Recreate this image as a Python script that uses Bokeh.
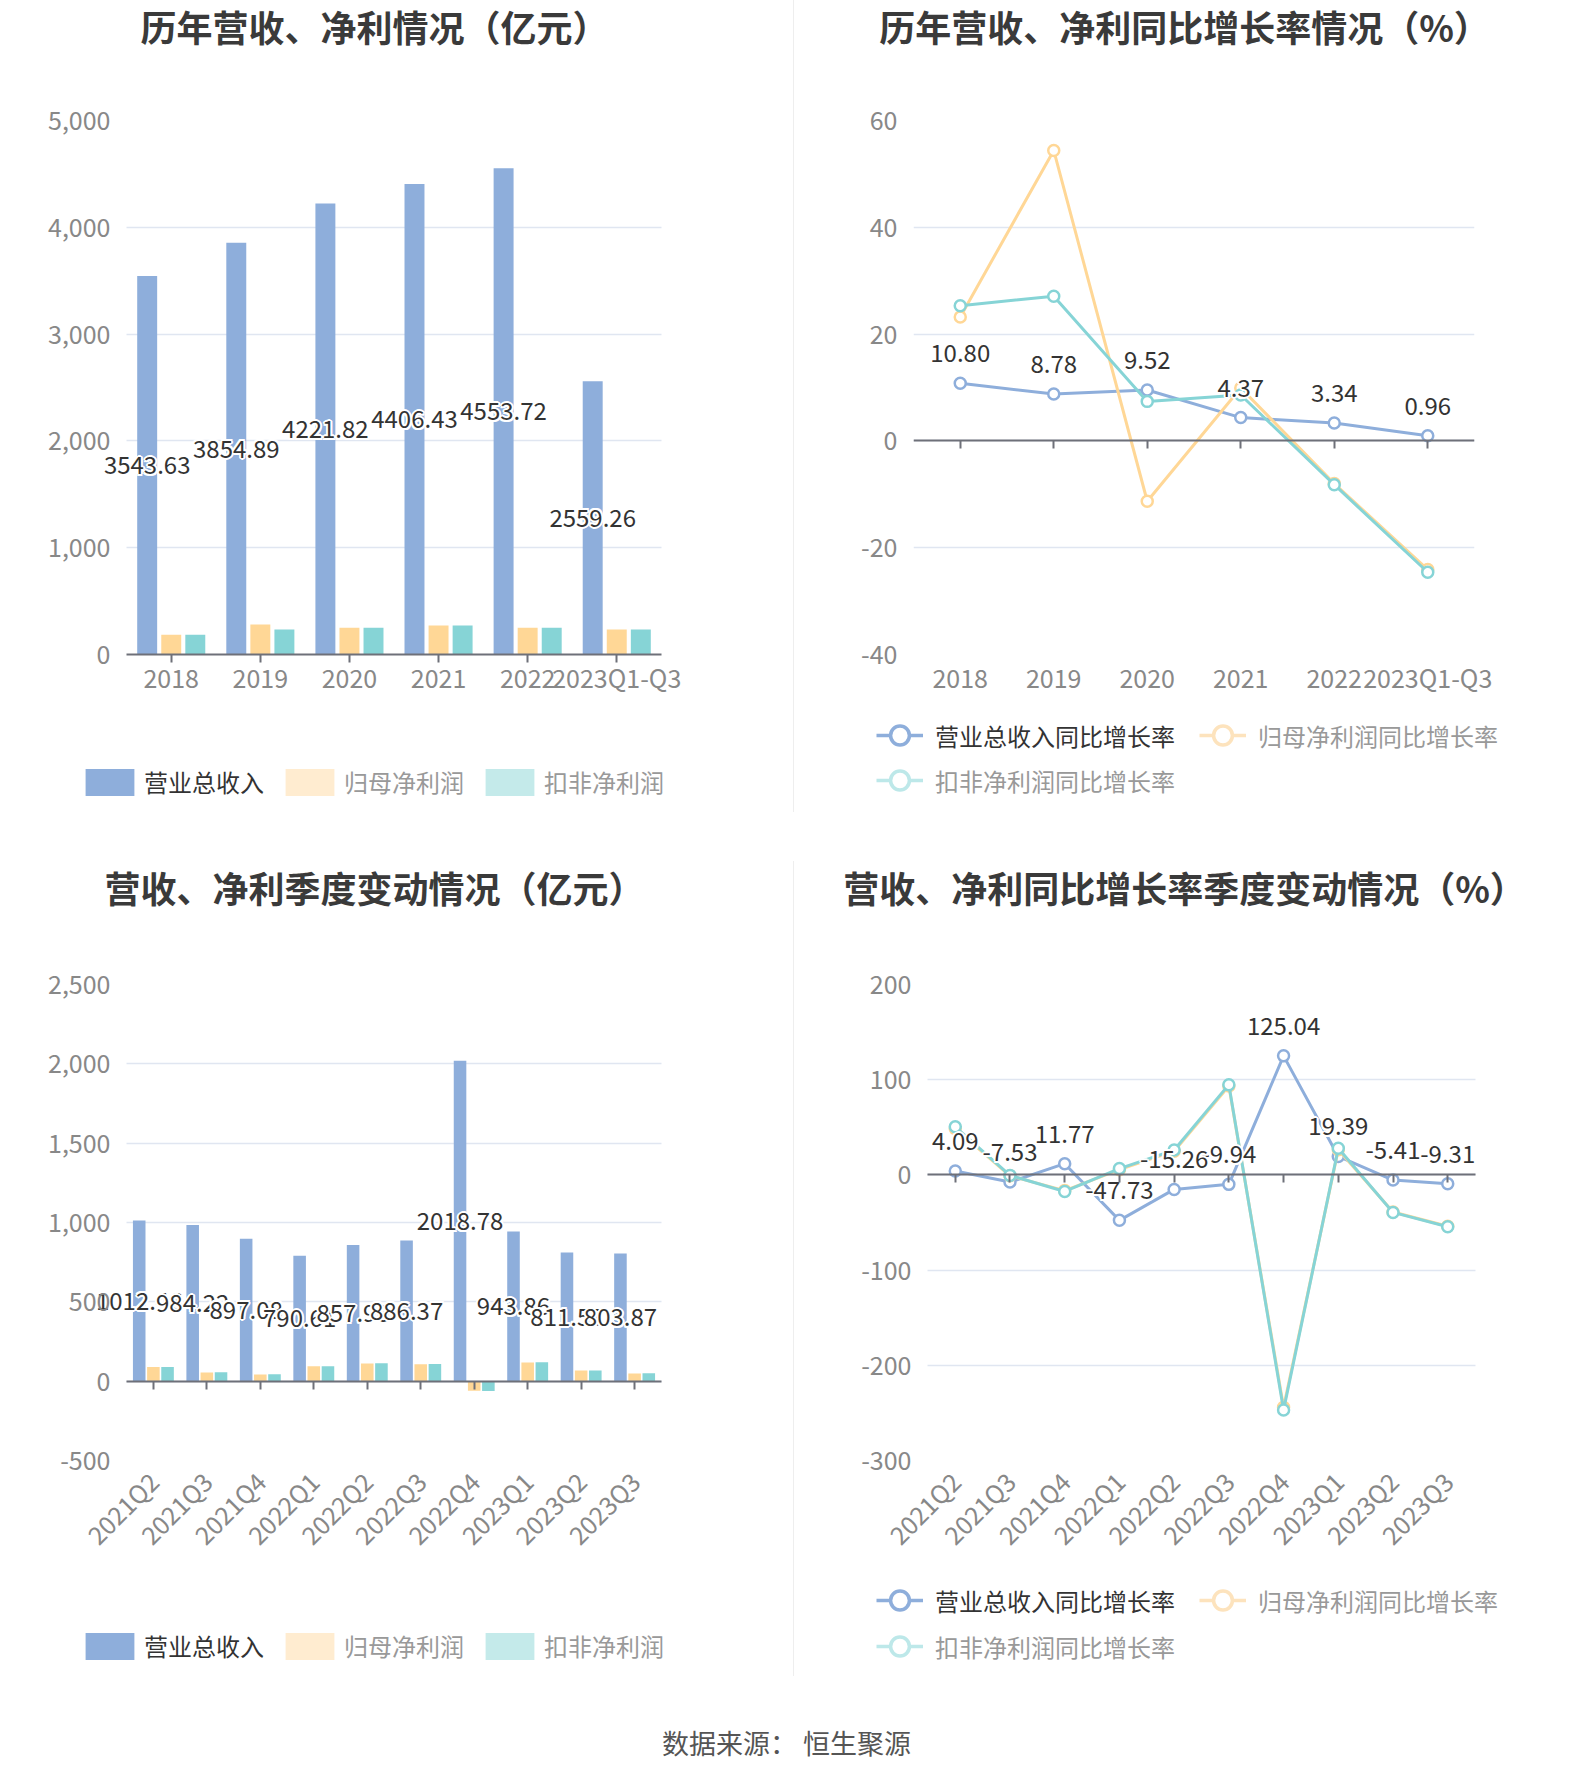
import math
from bokeh.plotting import figure
from bokeh.models import (ColumnDataSource, FactorRange, Range1d, CategoricalAxis, Legend,
                          LegendItem, Label, NumeralTickFormatter, FixedTicker, Div)
from bokeh.layouts import row, column
from bokeh.transform import dodge
from bokeh.core.properties import value
from bokeh.embed import file_html
from bokeh.resources import INLINE

# ---------------- data ----------------
years = ["2018", "2019", "2020", "2021", "2022", "2023Q1-Q3"]
rev_year = [3543.63, 3854.89, 4221.82, 4406.43, 4553.72, 2559.26]
np_year = [186, 282, 250, 272, 251, 235]
dnp_year = [186, 233, 251, 272, 251, 235]
rev_yoy = [10.80, 8.78, 9.52, 4.37, 3.34, 0.96]
np_yoy = [23.2, 54.4, -11.3, 9.9, -8.0, -24.1]
dnp_yoy = [25.3, 27.1, 7.4, 8.6, -8.2, -24.6]

quarters = ["2021Q2", "2021Q3", "2021Q4", "2022Q1", "2022Q2", "2022Q3",
            "2022Q4", "2023Q1", "2023Q2", "2023Q3"]
rev_q = [1012.46, 984.22, 897.08, 790.61, 857.96, 886.37, 2018.78, 943.86, 811.53, 803.87]
np_q = [89, 55, 42, 94, 112, 107, -60, 118, 68, 49]
dnp_q = [90, 56, 43, 94, 113, 108, -62, 119, 68, 50]
rev_q_yoy = [4.09, -7.53, 11.77, -47.73, -15.26, -9.94, 125.04, 19.39, -5.41, -9.31]
np_q_yoy = [48.5, -1.0, -16.5, 5.5, 24.9, 93.3, -244.0, 26.5, -39.0, -54.0]
dnp_q_yoy = [50.5, -0.5, -17.4, 6.6, 26.1, 94.8, -247.0, 27.9, -39.4, -54.4]

bar_names = ["营业总收入", "归母净利润", "扣非净利润"]
line_names = ["营业总收入同比增长率", "归母净利润同比增长率", "扣非净利润同比增长率"]
titles = ["历年营收、净利情况（亿元）", "历年营收、净利同比增长率情况（%）",
          "营收、净利季度变动情况（亿元）", "营收、净利同比增长率季度变动情况（%）"]
source_text = "数据来源： 恒生聚源"

# ---------------- style ----------------
FONT = "Noto Sans CJK SC"
BLUE, ORANGE, TEAL = "#8eaedb", "#ffd796", "#86d4d6"
ORANGE_L, TEAL_L = "#ffecd0", "#c4eaea"
ORANGE_LL, TEAL_LL = "#fde3bd", "#bde8e9"
GRID = "#e0e6f1"
AXC = "#6e7079"
TICKC = "#888888"
TXT = "#333333"
LEG_GRAY = "#999999"
SEP = "#eeeeee"
HALO = [(-2, 0), (2, 0), (0, -2), (0, 2), (-1.5, -1.5), (1.5, -1.5), (-1.5, 1.5), (1.5, 1.5)]
NAN = float("nan")


def blank_fig(width, height):
    p = figure(width=width, height=height, x_range=(0, 1), y_range=(0, 1),
               output_backend="svg", toolbar_location=None, min_border=0)
    p.axis.visible = False
    p.grid.visible = False
    p.outline_line_color = None
    return p


def title_fig(width, height, text, x, y):
    p = blank_fig(width, height)
    p.add_layout(Label(x=x, y=y, x_units="screen", y_units="screen", text=text,
                       text_align="center", text_baseline="middle",
                       text_font=FONT, text_font_size="36px", text_font_style="bold",
                       text_color="#3a3a3a"))
    return p


def plot_fig(width, height, factors, pad, y0, y1, step, left, right, top, bottom, fmt, ystand):
    n = len(factors)
    p = figure(width=width, height=height,
               x_range=FactorRange(*factors, range_padding=pad, range_padding_units="absolute"),
               y_range=Range1d(y0, y1), output_backend="svg", toolbar_location=None,
               min_border_left=left, min_border_right=right,
               min_border_top=top, min_border_bottom=bottom)
    p.outline_line_color = None
    p.xgrid.grid_line_color = None
    g = p.ygrid[0]
    g.grid_line_color = GRID
    g.grid_line_width = 1.5
    if "cross_bounds" in g.properties():
        g.cross_bounds = (0, n)
    ya = p.yaxis[0]
    ya.ticker = FixedTicker(ticks=list(range(y0, y1 + 1, step)))
    ya.formatter = NumeralTickFormatter(format=fmt)
    ya.axis_line_color = None
    ya.major_tick_line_color = None
    ya.minor_tick_line_color = None
    ya.major_tick_out = 0
    ya.major_tick_in = 0
    ya.major_label_standoff = ystand
    ya.major_label_text_font = FONT
    ya.major_label_text_font_size = "25px"
    ya.major_label_text_color = TICKC
    xa = p.xaxis[0]
    xa.major_label_text_font = FONT
    xa.major_label_text_font_size = "25px"
    xa.major_label_text_color = TICKC
    xa.bounds = (0, n)
    return p, xa


def zero_axis(p, xa, n):
    ax = CategoricalAxis(fixed_location=0, axis_line_color=AXC, axis_line_width=2,
                         major_tick_line_color=AXC, major_tick_line_width=2,
                         major_tick_in=8, major_tick_out=0, bounds=(0, n),
                         major_label_text_alpha=0, major_label_text_font_size="2px")
    p.add_layout(ax, "above")
    xa.axis_line_color = None
    xa.major_tick_line_color = None
    xa.major_tick_out = 0
    xa.major_tick_in = 0


def halo_labels(p, xs, ys, texts, x_spec, y_off, order):
    for i in order:
        src = ColumnDataSource(dict(x=[xs[i]], y=[ys[i]], t=[texts[i]]))
        for dx, dy in HALO:
            p.text(x=x_spec, y="y", text="t", source=src, x_offset=dx, y_offset=y_off + dy,
                   text_color="white", text_align="center", text_baseline="middle",
                   text_font=value(FONT), text_font_size="24px")
        p.text(x=x_spec, y="y", text="t", source=src, y_offset=y_off,
               text_color=TXT, text_align="center", text_baseline="middle",
               text_font=value(FONT), text_font_size="24px")


def add_legend(p, label, renderers, x, y, color, gw, gh, standoff):
    leg = Legend(items=[LegendItem(label=label, renderers=renderers)], location=(x, y),
                 orientation="horizontal", glyph_width=gw, glyph_height=gh,
                 label_standoff=standoff, padding=0, margin=0, spacing=0,
                 border_line_color=None, background_fill_alpha=0,
                 label_text_font=FONT, label_text_font_size="24px",
                 label_text_color=color, label_text_baseline="middle")
    p.add_layout(leg)


def bar_legend_fig(width, height, xs, y):
    p = blank_fig(width, height)
    dummy = ColumnDataSource(dict(x=[NAN], y=[NAN]))
    cols = [BLUE, ORANGE_L, TEAL_L]
    tcols = [TXT, LEG_GRAY, LEG_GRAY]
    for k in range(3):
        r = p.vbar(x="x", top="y", width=0.2, source=dummy, fill_color=cols[k], line_color=None)
        add_legend(p, bar_names[k], [r], xs[k], y, tcols[k], 61, 34, 4)
    return p


def line_legend_fig(width, height, pos):
    p = blank_fig(width, height)
    dummy = ColumnDataSource(dict(x=[NAN], y=[NAN]))
    cols = [BLUE, ORANGE_LL, TEAL_LL]
    tcols = [TXT, LEG_GRAY, LEG_GRAY]
    for k in range(3):
        rl = p.line(x="x", y="y", source=dummy, line_color=cols[k], line_width=3.5)
        rs = p.scatter(x="x", y="y", source=dummy, size=10, marker="circle", fill_color="white",
                       line_color=cols[k], line_width=3.5)
        add_legend(p, line_names[k], [rl, rs], pos[k][0], pos[k][1], tcols[k], 47, 50, 12)
    return p


def bars(p, cats, rev, npv, dnp, off, w, order):
    src = ColumnDataSource(dict(c=cats, rev=rev, np=npv, dnp=dnp))
    p.vbar(x=dodge("c", -off, range=p.x_range), top="rev", width=w, source=src,
           fill_color=BLUE, line_color=None)
    p.vbar(x=dodge("c", 0, range=p.x_range), top="np", width=w, source=src,
           fill_color=ORANGE, line_color=None)
    p.vbar(x=dodge("c", off, range=p.x_range), top="dnp", width=w, source=src,
           fill_color=TEAL, line_color=None)
    halo_labels(p, list(cats), [v / 2 for v in rev], ["%.2f" % v for v in rev],
                dodge("x", -off, range=p.x_range), 0, order)


def lines(p, cats, a, b, c, order):
    src = ColumnDataSource(dict(c=cats, a=a, b=b, d=c))
    for col, fld in [(BLUE, "a"), (ORANGE, "b"), (TEAL, "d")]:
        p.line(x="c", y=fld, source=src, line_color=col, line_width=3)
        p.scatter(x="c", y=fld, source=src, size=11, marker="circle", fill_color="white",
                  line_color=col, line_width=2.5)
    halo_labels(p, list(cats), list(a), ["%.2f" % v for v in a], "x", -30, order)


def sep(height, top=0):
    return Div(width=1, height=height, margin=(top, 0, 0, 0), styles={"background-color": SEP})


# ---------------- panel 1 (top-left) ----------------
t1 = title_fig(793, 88, titles[0], 374, 63)
p1, xa1 = plot_fig(793, 624, years, 0.35, 0, 5000, 1000, 95, 101, 32, 58, "0,0", -15)
xa1.axis_line_color = AXC
xa1.axis_line_width = 2
xa1.major_tick_line_color = AXC
xa1.major_tick_line_width = 2
xa1.major_tick_out = 8
xa1.major_tick_in = 0
xa1.major_label_standoff = -4
bars(p1, years, rev_year, np_year, dnp_year, 0.27, 0.224, list(range(len(years))))
l1 = bar_legend_fig(793, 146, [79, 279, 479], 59)

# ---------------- panel 2 (top-right) ----------------
t2 = title_fig(780, 88, titles[1], 390, 63)
p2, xa2 = plot_fig(780, 624, years, 0.0, -40, 60, 20, 119, 100, 32, 58, "0", 16)
zero_axis(p2, xa2, len(years))
xa2.major_label_standoff = 4
lines(p2, years, rev_yoy, np_yoy, dnp_yoy, list(range(len(years))))
l2 = line_legend_fig(780, 146, [(82, 98), (405, 98), (82, 53)])

# ---------------- panel 3 (bottom-left) ----------------
t3 = title_fig(793, 82, titles[2], 374, 54)
p3, xa3 = plot_fig(793, 640, quarters, 0.62, -500, 2500, 500, 93, 99, 44, 120, "0,0", -17)
zero_axis(p3, xa3, len(quarters))
xa3.major_label_orientation = math.pi / 4
xa3.major_label_standoff = 16
bars(p3, quarters, rev_q, np_q, dnp_q, 0.265, 0.235, list(range(len(quarters))))
l3 = bar_legend_fig(793, 120, [79, 279, 479], 37)

# ---------------- panel 4 (bottom-right) ----------------
t4 = title_fig(780, 82, titles[3], 390, 54)
p4, xa4 = plot_fig(780, 640, quarters, 0.3, -300, 200, 100, 117, 83, 44, 120, "0", 0)
zero_axis(p4, xa4, len(quarters))
xa4.major_label_orientation = math.pi / 4
xa4.major_label_standoff = 16
lines(p4, quarters, rev_q_yoy, np_q_yoy, dnp_q_yoy, list(range(len(quarters)))[::-1])
l4 = line_legend_fig(780, 120, [(82, 75), (405, 75), (82, 29)])

# ---------------- source ----------------
p5 = blank_fig(1574, 82)
p5.add_layout(Label(x=786, y=40, x_units="screen", y_units="screen", text=source_text,
                    text_align="center", text_baseline="middle", text_font=FONT,
                    text_font_size="27px", text_color="#555555"))

layout = column(
    row(t1, sep(88), t2),
    row(p1, sep(624), p2),
    row(l1, sep(100), l2),
    row(t3, sep(79, 3), t4),
    row(p3, sep(640), p4),
    row(l3, sep(96), l4),
    p5,
)
open("out.html", "w").write(file_html(layout, INLINE))
